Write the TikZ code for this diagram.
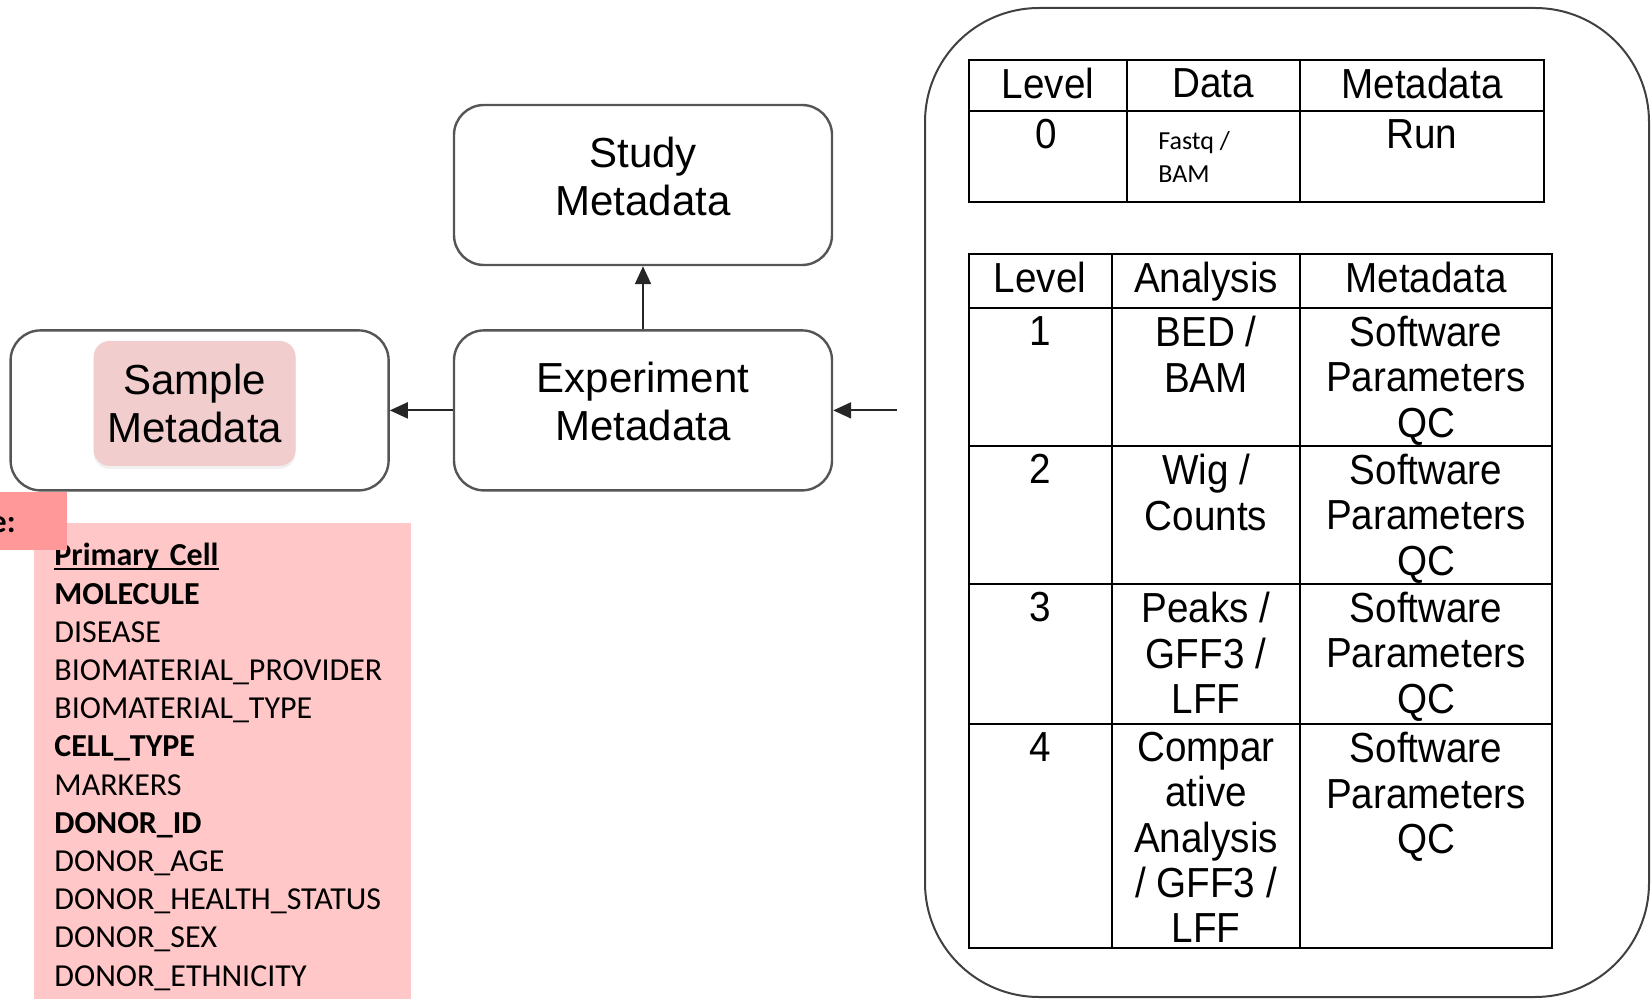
\documentclass[tikz,border=0pt]{standalone}
\usepackage{fontspec}
\usetikzlibrary{arrows.meta,positioning,shadows}
\newfontfamily\boxfont{Liberation Sans}
\newfontfamily\tabfont[FakeStretch=0.92]{Liberation Sans}
\newfontfamily\listfont{Carlito}
\definecolor{hlpink}{RGB}{242,205,205}
\definecolor{listpink}{RGB}{255,199,199}
\definecolor{tagpink}{RGB}{255,153,153}
\definecolor{boxgray}{RGB}{85,85,85}
\def\figboxwidth{189pt}
\def\figboxheight{80pt}
\def\fignodesep{31.5pt}
\def\figboxfont{\boxfont\fontsize{21pt}{24pt}\selectfont}
\def\figtabfont{\tabfont\fontsize{21pt}{22.6pt}\selectfont}
\def\figsmallfont{\listfont\fontsize{13pt}{16.5pt}\selectfont}
\def\figlistfont{\listfont\fontsize{16pt}{19.1pt}\selectfont}
\newcommand\figul[1]{\leavevmode\setbox0\hbox{#1}\rlap{\rule[-2.2pt]{\wd0}{0.9pt}}\box0}

\begin{document}
\begin{tikzpicture}[
  x=0.5pt,y=-0.5pt,
  node distance=\fignodesep,
  box/.style={draw=boxgray,line width=1.2pt,rounded corners=15pt,minimum width=\figboxwidth,minimum height=\figboxheight,align=center,font=\figboxfont,text depth=9pt},
  hilite/.style={fill=hlpink,rounded corners=8pt,minimum width=101pt,minimum height=62.5pt,align=center,font=\figboxfont,drop shadow={opacity=0.12,shadow xshift=0pt,shadow yshift=-1.5pt}},
  arr/.style={draw=black!85,line width=1pt,-{Triangle[length=9pt,width=8pt]}},
  panel/.style={draw=black!75,line width=1pt,rounded corners=57pt},
  tabline/.style={line width=1.2pt},
  cell/.style={font=\figtabfont,align=center,anchor=north,inner sep=0pt},
  smallcell/.style={font=\figsmallfont,align=left,anchor=north west,inner sep=0pt},
  listbox/.style={fill=listpink,anchor=north west,inner xsep=10pt,inner ysep=10pt,text width=168.5pt,align=left,font=\figlistfont},
  tag/.style={fill=tagpink,anchor=north west,minimum width=33.5pt,minimum height=29pt,inner sep=0pt},
]
\useasboundingbox (0,0) rectangle (1652,999);

%%%%%%%%%%%%%%%
% Metadata Boxes
%%%%%%%%%%%%%%%
\node (study) [box] at (643,185) {Study\\Metadata};
\node (exp) [box,below=of study] {Experiment\\Metadata};
\node (sample) [box,left=of exp] {};
\node (samplehl) [hilite,xshift=-2.5pt,yshift=3.5pt] at (sample.center) {Sample\\Metadata};

\coordinate (feed) at ([xshift=32pt]exp.east);
\draw[arr] (exp) -- (study);
\draw[arr] (exp) -- (sample);
\draw[arr] (feed) -- (exp.east);

%%%%%%%%%%%%%%%
% Sample Attributes
%%%%%%%%%%%%%%%
\node (attrs) [listbox] at (34,523) {\figul{\bfseries Primary Cell}\\
  \textbf{MOLECULE}\\
  DISEASE\\
  BIOMATERIAL\_PROVIDER\\
  BIOMATERIAL\_TYPE\\
  \textbf{CELL\_TYPE}\\
  MARKERS\\
  \textbf{DONOR\_ID}\\
  DONOR\_AGE\\
  DONOR\_HEALTH\_STATUS\\
  DONOR\_SEX\\
  DONOR\_ETHNICITY};
\node (tag) [tag] at (0,492) {};
\node (tagtext) [anchor=base east,inner sep=0pt,font=\figlistfont\bfseries] at (16,532) {e:};

%%%%%%%%%%%%%%%
% Levels Panel
%%%%%%%%%%%%%%%
\draw[panel] (925,8) rectangle (1649,997);

% Level 0 table
\draw[tabline] (969,60) rectangle (1544,202);
\draw[tabline] (969,111) -- (1544,111) (1127,60) -- (1127,202) (1300,60) -- (1300,202);
\node (t0hlvl) [cell] at (1048,68) {Level};
\node (t0hdat) [cell] at (1213,68) {Data};
\node (t0hmeta) [cell] at (1422,68) {Metadata};
\node (t0lvl) [cell] at (1046,119) {0};
\node (t0dat) [smallcell] at (1158,131) {Fastq /\\BAM};
\node (t0meta) [cell] at (1422,119) {Run};

% Level 1-4 table
\draw[tabline] (969,254) rectangle (1552,948);
\draw[tabline] (969,308) -- (1552,308) (969,446) -- (1552,446) (969,584) -- (1552,584) (969,724) -- (1552,724);
\draw[tabline] (1112,254) -- (1112,948) (1300,254) -- (1300,948);
\node (t1hlvl) [cell] at (1040,262) {Level};
\node (t1hana) [cell] at (1206,262) {Analysis};
\node (t1hmeta) [cell] at (1426,262) {Metadata};

\node (lvl1) [cell] at (1040,316) {1};
\node (ana1) [cell] at (1206,316) {BED /\\BAM};
\node (meta1) [cell] at (1426,316) {Software\\Parameters\\QC};

\node (lvl2) [cell] at (1040,454) {2};
\node (ana2) [cell] at (1206,454) {Wig /\\Counts};
\node (meta2) [cell] at (1426,454) {Software\\Parameters\\QC};

\node (lvl3) [cell] at (1040,592) {3};
\node (ana3) [cell] at (1206,592) {Peaks /\\GFF3 /\\LFF};
\node (meta3) [cell] at (1426,592) {Software\\Parameters\\QC};

\node (lvl4) [cell] at (1040,732) {4};
\node (ana4) [cell] at (1206,732) {Compar\\ative\\Analysis\\/ GFF3 /\\LFF};
\node (meta4) [cell] at (1426,732) {Software\\Parameters\\QC};

\end{tikzpicture}
\end{document}
